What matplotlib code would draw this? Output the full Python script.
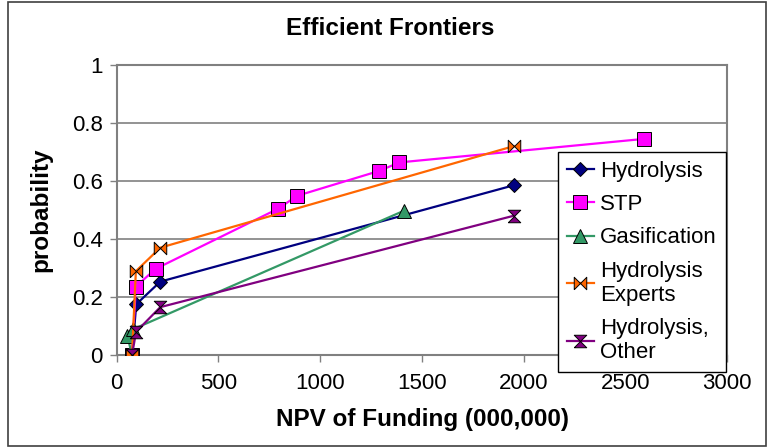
import matplotlib
matplotlib.use("Agg")
import matplotlib.pyplot as plt
from matplotlib.patches import Rectangle

plt.rcParams["font.family"] = ["Liberation Sans", "DejaVu Sans"]

# ── Data ──────────────────────────────────────────────────────────────────────
hyd_x = [75, 96, 214, 1950]
hyd_y = [0.0, 0.175, 0.253, 0.585]

stp_x = [75, 94, 191, 792, 887, 1291, 1389, 2590]
stp_y = [0.0, 0.236, 0.297, 0.504, 0.549, 0.635, 0.664, 0.745]

gas_x = [75, 52, 78, 1410]
gas_y = [0.0, 0.066, 0.088, 0.497]

exp_x = [75, 94, 214, 1950]
exp_y = [0.0, 0.289, 0.370, 0.720]

oth_x = [75, 95, 214, 1950]
oth_y = [0.0, 0.080, 0.165, 0.480]

series = [
    ("Hydrolysis", hyd_x, hyd_y),
    ("STP", stp_x, stp_y),
    ("Gasification", gas_x, gas_y),
    ("Hydrolysis\nExperts", exp_x, exp_y),
    ("Hydrolysis,\nOther", oth_x, oth_y),
]

bowtie = [(-1, -1), (-1, 1), (1, -1), (1, 1), (-1, -1)]
hourglass = [(-1, -1), (1, -1), (-1, 1), (1, 1), (-1, -1)]
styles = [
    dict(color="#000080", marker="D", ms=7.5),
    dict(color="#FF00FF", marker="s", ms=9.5),
    dict(color="#339966", marker="^", ms=9.5),
    dict(color="#FF6600", marker=bowtie, ms=9),
    dict(color="#800080", marker=hourglass, ms=9),
]

fig = plt.figure(figsize=(7.68, 4.48), dpi=100)
fig.patch.set_facecolor("white")
fig.patches.append(Rectangle((0.011, 0.004), 0.987, 0.992, transform=fig.transFigure,
                             fill=False, edgecolor="#404040", lw=1.2))

ax = fig.add_axes([0.152, 0.2076, 0.795, 0.6474])

for (label, xs, ys), st in zip(series, styles):
    ax.plot(xs, ys, color=st["color"], lw=1.6, marker=st["marker"],
            markersize=st["ms"], markerfacecolor=st["color"],
            markeredgecolor="black", markeredgewidth=0.7, label=label, zorder=3)

ax.set_xlim(0, 3000)
ax.set_ylim(0, 1)
ax.set_xticks([0, 500, 1000, 1500, 2000, 2500, 3000])
ax.set_yticks([0, 0.2, 0.4, 0.6, 0.8, 1])
ax.set_yticklabels(["0", "0.2", "0.4", "0.6", "0.8", "1"])
ax.tick_params(axis="both", labelsize=16, direction="out", length=5,
               color="#808080", width=1)
ax.tick_params(axis="x", pad=8)
ax.tick_params(axis="y", pad=5)
ax.yaxis.grid(True, color="#808080", lw=1.2)
ax.set_axisbelow(True)
for sp in ax.spines.values():
    sp.set_color("#808080")
    sp.set_linewidth(1.5)

fig.text(0.508, 0.937, "Efficient Frontiers", fontsize=17.5, fontweight="bold",
         ha="center", va="center")
ax.set_xlabel("NPV of Funding (000,000)", fontsize=17.5, fontweight="bold", labelpad=10)
ax.set_ylabel("probability", fontsize=17.5, fontweight="bold", labelpad=14)

leg = ax.legend(loc="upper left", bbox_to_anchor=(0.7266, 0.6607),
                bbox_transform=fig.transFigure, fontsize=16, frameon=True,
                fancybox=False, framealpha=1, edgecolor="black",
                handlelength=1.2, handletextpad=0.3, labelspacing=0.55,
                borderpad=0.4, borderaxespad=0)
leg.get_frame().set_linewidth(1.0)
leg.set_zorder(5)

fig.savefig("out.png", dpi=100)
